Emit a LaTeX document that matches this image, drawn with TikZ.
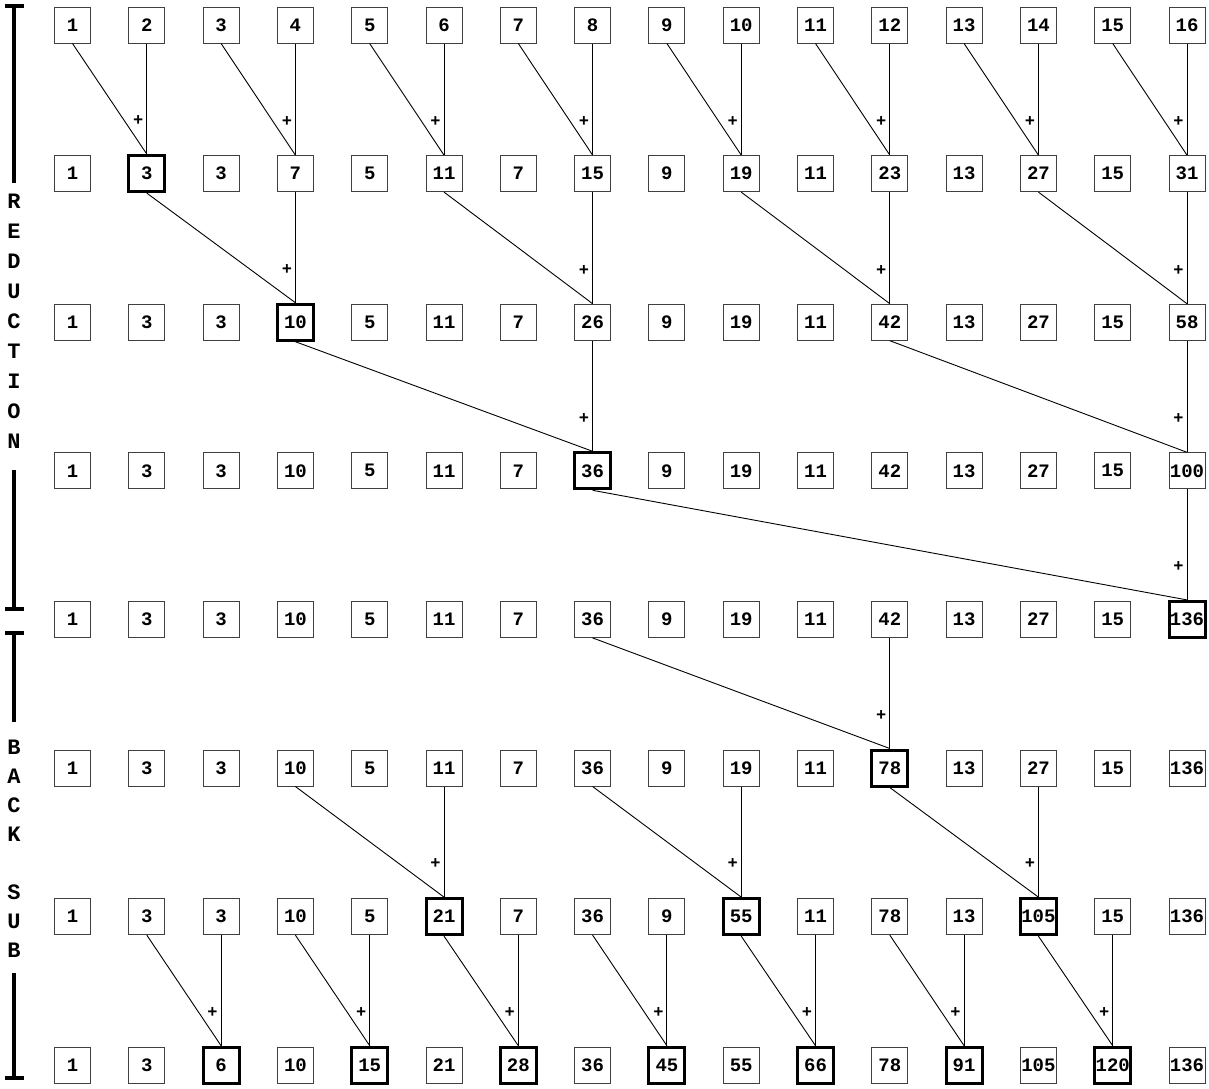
\documentclass[tikz,border=0pt]{standalone}
\usepackage{fontspec}
\setmonofont{Liberation Mono}

\tikzset{
  cell/.style={draw=black!75, line width=1pt, minimum size=36pt, inner sep=0pt,
    font=\ttfamily\bfseries\fontsize{19}{19}\selectfont},
  done/.style={draw=black, line width=3pt},
  hilite/.style={hl #1/.style={done}},
  hilite/.list={2-2,3-4,4-8,5-16,6-12,7-6,7-10,7-14,8-3,8-5,8-7,8-9,8-11,8-13,8-15},
  link/.style={line width=0.9pt},
  plus/.style={pos=0.7, left, inner sep=0pt, xshift=-3pt,
    font=\ttfamily\bfseries\fontsize{17}{17}\selectfont},
  bracket/.style={line width=3.5pt},
  side/.style={align=center, font=\ttfamily\bfseries\fontsize{22}{30}\selectfont}
}

\begin{document}
\begin{tikzpicture}[x=1pt, y=-1pt]
\useasboundingbox (0,0) rectangle (1209,1088);

% Cells, one row per step
\foreach \r/\vals in {
  1/{1,2,3,4,5,6,7,8,9,10,11,12,13,14,15,16},
  2/{1,3,3,7,5,11,7,15,9,19,11,23,13,27,15,31},
  3/{1,3,3,10,5,11,7,26,9,19,11,42,13,27,15,58},
  4/{1,3,3,10,5,11,7,36,9,19,11,42,13,27,15,100},
  5/{1,3,3,10,5,11,7,36,9,19,11,42,13,27,15,136},
  6/{1,3,3,10,5,11,7,36,9,19,11,78,13,27,15,136},
  7/{1,3,3,10,5,21,7,36,9,55,11,78,13,105,15,136},
  8/{1,3,6,10,15,21,28,36,45,55,66,78,91,105,120,136}}{
  \foreach \v [count=\c] in \vals
    \node[cell, hl \r-\c/.try] (\r-\c) at ({72.5+(\c-1)*74.3},{25+(\r-1)*148.6}) {\v};
}

% Sums: row/left/right
\foreach \r/\a/\b in {
  1/1/2, 1/3/4, 1/5/6, 1/7/8, 1/9/10, 1/11/12, 1/13/14, 1/15/16,
  2/2/4, 2/6/8, 2/10/12, 2/14/16,
  3/4/8, 3/12/16,
  4/8/16,
  5/8/12,
  6/4/6, 6/8/10, 6/12/14,
  7/2/3, 7/4/5, 7/6/7, 7/8/9, 7/10/11, 7/12/13, 7/14/15}{
  \pgfmathtruncatemacro\s{\r+1}
  \draw[link] (\r-\a.south) -- (\s-\b.north);
  \draw[link] (\r-\b.south) -- (\s-\b.north) node[plus] {+};
}

% Phase labels
\node[side] (red) at (14,321.5) {R\\E\\D\\U\\C\\T\\I\\O\\N};
\node[side, font=\ttfamily\bfseries\fontsize{22}{29}\selectfont] (back) at (14,848.5) {B\\A\\C\\K\\~\\S\\U\\B};

\draw[bracket] (5,6) -- (24,6) (14,6) -- (14,183);
\draw[bracket] (14,470) -- (14,609) (5,609) -- (24,609);
\draw[bracket] (5,633) -- (24,633) (14,633) -- (14,722);
\draw[bracket] (14,973) -- (14,1078) (5,1078) -- (24,1078);

\end{tikzpicture}
\end{document}
